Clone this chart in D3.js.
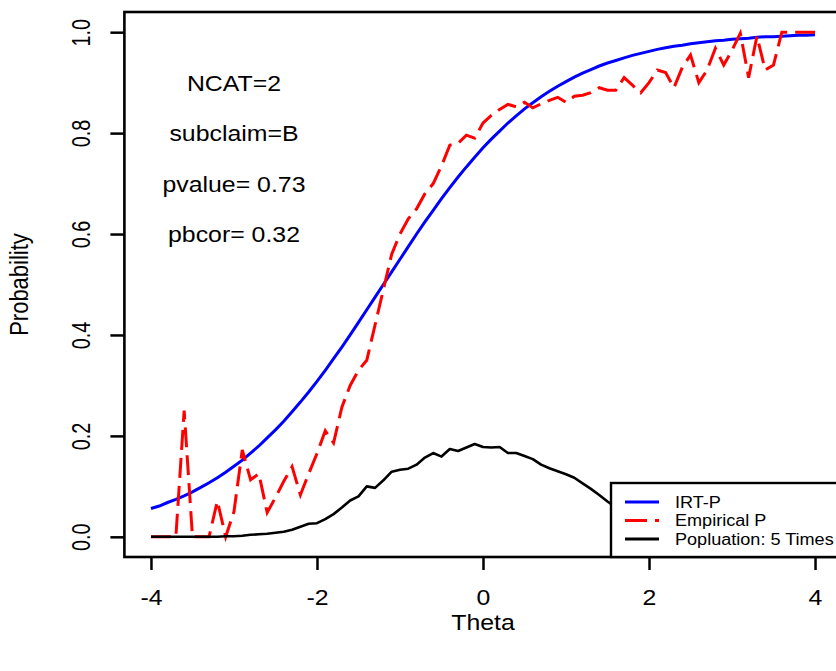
<!DOCTYPE html>
<html>
<head>
<meta charset="utf-8">
<script src="https://cdn.jsdelivr.net/npm/d3@7"></script>
<style>
  body { margin: 0; background: #fff; }
  svg text { font-family: "Liberation Sans", Arial, sans-serif; fill: #000; }
</style>
</head>
<body>
<div id="chart"></div>
<script>
// Item characteristic plot: IRT curve, empirical proportions, scaled population density

var theta = [-4.0,-3.9,-3.8,-3.7,-3.6,-3.5,-3.4,-3.3,-3.2,-3.1,-3.0,-2.9,-2.8,-2.7,-2.6,-2.5,-2.4,-2.3,-2.2,-2.1,
  -2.0,-1.9,-1.8,-1.7,-1.6,-1.5,-1.4,-1.3,-1.2,-1.1,-1.0,-0.9,-0.8,-0.7,-0.6,-0.5,-0.4,-0.3,-0.2,-0.1,
  0.0,0.1,0.2,0.3,0.4,0.5,0.6,0.7,0.8,0.9,1.0,1.1,1.2,1.3,1.4,1.5,1.6,1.7,1.8,1.9,
  2.0,2.1,2.2,2.3,2.4,2.5,2.6,2.7,2.8,2.9,3.0,3.1,3.2,3.3,3.4,3.5,3.6,3.7,3.8,3.9,4.0];

var irtP = [0.056,0.061,0.068,0.074,0.081,0.089,0.098,0.107,0.117,0.128,0.140,0.152,0.166,0.180,0.196,0.212,0.229,0.248,0.267,0.287,
  0.308,0.330,0.353,0.376,0.400,0.425,0.450,0.475,0.500,0.525,0.550,0.575,0.600,0.624,0.647,0.670,0.692,0.713,0.733,0.752,
  0.771,0.788,0.804,0.820,0.834,0.848,0.860,0.872,0.883,0.893,0.902,0.911,0.919,0.926,0.933,0.939,0.944,0.949,0.954,0.958,
  0.962,0.966,0.969,0.972,0.974,0.977,0.979,0.981,0.983,0.984,0.986,0.987,0.988,0.990,0.991,0.991,0.992,0.993,0.994,0.994,0.995];

var empP = [0,0,0,0,0.25,0,0,0,0.071,0,0.05,0.172,0.113,0.125,0.048,0.078,0.11,0.139,0.083,0.125,
  0.165,0.21,0.186,0.257,0.30,0.33,0.35,0.42,0.49,0.56,0.60,0.63,0.65,0.68,0.70,0.735,0.776,0.78,0.796,0.79,
  0.82,0.835,0.847,0.857,0.852,0.861,0.85,0.858,0.865,0.871,0.861,0.873,0.875,0.88,0.89,0.885,0.885,0.91,0.895,0.88,
  0.90,0.925,0.92,0.89,0.93,0.955,0.90,0.925,0.968,0.935,0.964,0.998,0.91,0.992,0.925,0.935,1.0,1.0,1.0,1.0,1.0];

var popDens = [0,0,0,0,0,0,0,0,0,0.001,0.001,0.002,0.004,0.005,0.006,0.008,0.010,0.014,0.020,0.026,
  0.027,0.035,0.045,0.058,0.072,0.080,0.100,0.097,0.112,0.129,0.133,0.135,0.143,0.157,0.166,0.159,0.174,0.170,0.177,0.184,
  0.178,0.177,0.178,0.166,0.166,0.160,0.154,0.143,0.136,0.130,0.124,0.117,0.106,0.095,0.083,0.070,0.058,0.048,0.038,0.030,
  0.023,0.017,0.013,0.010,0.007,0.005,0.004,0.003,0.002,0.001,0,0,0,0,0,0,0,0,0,0,0];

var xTicks = [-4, -2, 0, 2, 4];
var yTicks = [0, 0.2, 0.4, 0.6, 0.8, 1.0];

var noteLines = ["NCAT=2", "subclaim=B", "pvalue= 0.73", "pbcor= 0.32"];
var noteY = [0.9, 0.8, 0.7, 0.6];
var noteX = -3;

var legendLabels = ["IRT-P", "Empirical P", "Popluation: 5 Times"];
var legendColors = ["#0000ff", "#ff0000", "#000000"];

var W = 836, H = 671;
var stretch = 1.13;

var svg = d3.select("#chart").append("svg")
  .attr("width", W)
  .attr("height", H);

// scales (R style 4% padding)
var x = d3.scaleLinear().domain([-4.32, 4.32]).range([124.4, 841.6]);
var y = d3.scaleLinear().domain([-0.04, 1.04]).range([557, 12]);

// curves
var line = function(vals) {
  return d3.line()
    .x(function(d, i) { return x(theta[i]); })
    .y(function(d) { return y(d); })(vals);
};

svg.append("path")
  .attr("d", line(irtP))
  .attr("fill", "none")
  .attr("stroke", "#0000ff")
  .attr("stroke-width", 3);

svg.append("path")
  .attr("d", line(empP))
  .attr("fill", "none")
  .attr("stroke", "#ff0000")
  .attr("stroke-width", 3)
  .attr("stroke-dasharray", "20,8");

svg.append("path")
  .attr("d", line(popDens))
  .attr("fill", "none")
  .attr("stroke", "#000")
  .attr("stroke-width", 2.6)
  .attr("stroke-linejoin", "round");

// axes
var xAxis = svg.append("g")
  .attr("transform", "translate(0,557)")
  .call(d3.axisBottom(x).tickValues(xTicks).tickSize(13).tickFormat(function(d) { return d; }));
xAxis.select(".domain").remove();
xAxis.selectAll("line").attr("stroke", "#000").attr("stroke-width", 2.5);
xAxis.selectAll("text")
  .attr("y", null).attr("dy", null)
  .attr("fill", "#000")
  .style("font-size", "22px")
  .attr("text-anchor", "middle")
  .attr("transform", "translate(0,48) scale(" + stretch + ",1)");

var yAxis = svg.append("g")
  .attr("transform", "translate(124.4,0)")
  .call(d3.axisLeft(y).tickValues(yTicks).tickSize(14).tickFormat(d3.format(".1f")));
yAxis.select(".domain").remove();
yAxis.selectAll("line").attr("stroke", "#000").attr("stroke-width", 2.5);
yAxis.selectAll("text")
  .attr("x", null).attr("dy", null)
  .attr("fill", "#000")
  .style("font-size", "22px")
  .attr("text-anchor", "middle")
  .attr("transform", "translate(-34.4,0) rotate(-90) scale(0.9,1.14)");

// box
svg.append("rect")
  .attr("x", 124.4).attr("y", 12)
  .attr("width", 841.6 - 124.4).attr("height", 557 - 12)
  .attr("fill", "none")
  .attr("stroke", "#000")
  .attr("stroke-width", 2.6);

// axis titles
svg.append("text")
  .attr("transform", "translate(483,630) scale(" + stretch + ",1)")
  .attr("text-anchor", "middle")
  .style("font-size", "22px")
  .text("Theta");

svg.append("text")
  .attr("transform", "translate(28,284.5) rotate(-90) scale(1,1.13)")
  .attr("text-anchor", "middle")
  .style("font-size", "22px")
  .text("Probability");

// annotations
svg.selectAll(".note")
  .data(noteLines).enter()
  .append("text")
  .attr("class", "note")
  .attr("text-anchor", "middle")
  .style("font-size", "22px")
  .attr("transform", function(d, i) {
    return "translate(" + x(noteX) + "," + (y(noteY[i]) + 8) + ") scale(" + stretch + ",1)";
  })
  .text(function(d) { return d; });

// legend, bottom right
var lg = svg.append("g");
lg.append("rect")
  .attr("x", 611).attr("y", 483)
  .attr("width", 841.6 - 611).attr("height", 557 - 483)
  .attr("fill", "#fff")
  .attr("stroke", "#000")
  .attr("stroke-width", 2.4);

var rows = lg.selectAll(".row")
  .data(legendLabels).enter()
  .append("g")
  .attr("transform", function(d, i) { return "translate(0," + (502 + i * 18.5) + ")"; });

rows.append("line")
  .attr("x1", 625).attr("x2", 659)
  .attr("stroke", function(d, i) { return legendColors[i]; })
  .attr("stroke-width", 3)
  .attr("stroke-dasharray", function(d, i) { return i === 1 ? "22,8" : null; });

rows.append("text")
  .attr("transform", "translate(675,5.5) scale(" + stretch + ",1)")
  .style("font-size", "16px")
  .text(function(d) { return d; });
</script>
</body>
</html>
